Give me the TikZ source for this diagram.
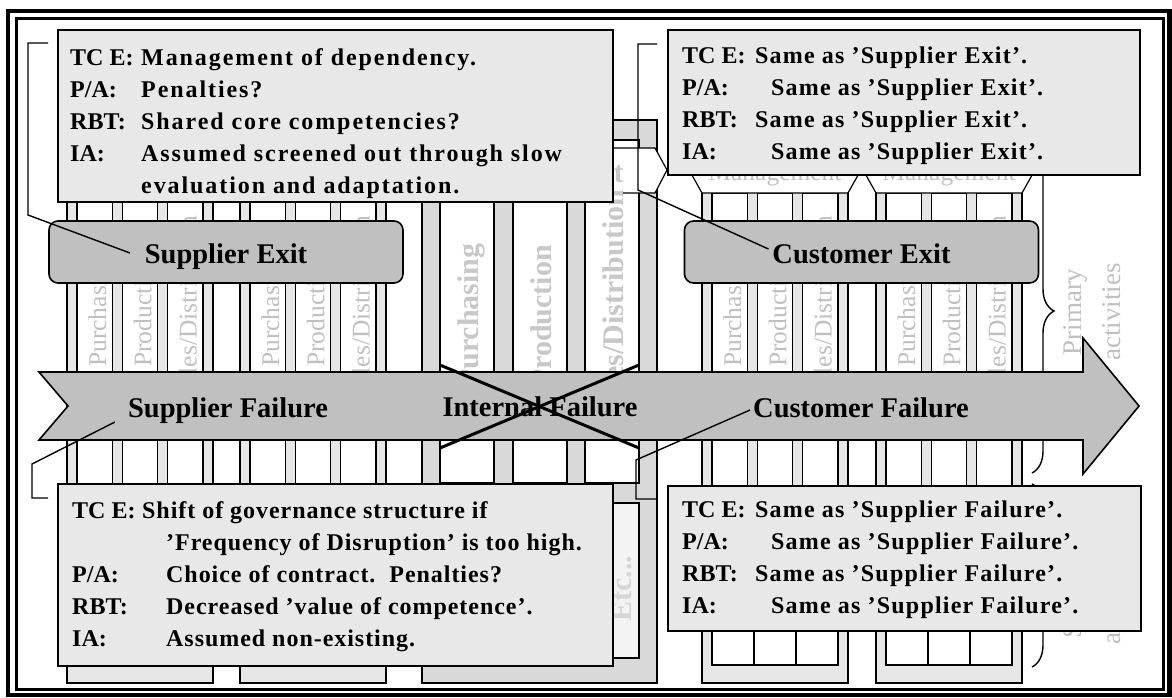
\documentclass[tikz,border=0pt]{standalone}
\usepackage{fontspec}
\usepackage{array}
\setmainfont{Liberation Serif}
\newfontfamily\tlserif[LetterSpace=8]{Liberation Serif}
\newfontfamily\blserif[LetterSpace=4]{Liberation Serif}
\newfontfamily\rserif[LetterSpace=5]{Liberation Serif}
\usepackage{tikz}
\usetikzlibrary{calc,decorations.pathreplacing}

\definecolor{boxfill}{RGB}{232,232,232}
\definecolor{exitfill}{RGB}{192,192,192}
\definecolor{barfill}{RGB}{230,230,230}
\definecolor{midfill}{RGB}{217,217,217}
\definecolor{etcfill}{RGB}{243,243,243}
\definecolor{colgray}{RGB}{192,192,192}
\definecolor{midgray}{RGB}{200,200,200}

\begin{document}
\begin{tikzpicture}[x=1pt, y=-1pt,
  outline/.style={draw, line width=1.2pt},
  textbox/.style={draw, line width=1.8pt, fill=boxfill, inner sep=0pt, anchor=north west},
  boxtext/.style={anchor=base west, inner sep=0pt, font=\bfseries\fontsize{24}{32}\selectfont},
  exitbox/.style={draw, line width=1.6pt, fill=exitfill, rounded corners=9pt, minimum width=354pt,
    minimum height=62pt, inner sep=0pt, text height=26pt, text depth=4pt, font=\bfseries\fontsize{28.5}{34}\selectfont},
  flowtext/.style={anchor=base, inner sep=0pt, font=\bfseries\fontsize{28.5}{34}\selectfont},
  coltext/.style={rotate=90, anchor=base west, inner sep=0pt, text=colgray, font=\fontsize{25.5}{30}\selectfont},
  midcol/.style={coltext, text=midgray, font=\bfseries\fontsize{30}{36}\selectfont},
  mgmt/.style={anchor=base, inner sep=0pt, text=colgray, font=\fontsize{25.5}{30}\selectfont},
  actbrace/.style={line width=1.4pt, decorate, decoration={brace, amplitude=22pt}},
  acttext/.style={rotate=90, align=center, inner sep=0pt, text=colgray, font=\fontsize{27}{39}\selectfont},
  leader/.style={line width=1.4pt}]
  \useasboundingbox (0,0) rectangle (1172,697);

  % Small firms of the chain (two suppliers, two customers)
  \foreach \cx/\n in {67/a,240/b,702/c,876/d} {
    \draw[outline, fill=barfill] (\cx,150) rectangle ++(146,533);
    \foreach \k in {0,1,2} {
      \draw[outline, fill=white] ({\cx+10+45.33*\k},193) rectangle ++(35.33,407);
      \draw[outline, fill=white] ({\cx+10+42*\k},608) rectangle ++(42,57);
    }
    \node[coltext] (pur\n) at ({\cx+39},367) {Purchasing};
    \node[coltext] (pro\n) at ({\cx+84.3},367) {Production};
    \node[coltext] (sal\n) at ({\cx+129.7},400) {Sales/Distribution};
  }
  % headers of the customer firms
  \foreach \cx/\n in {702/c,876/d} {
    \draw[outline, fill=white] (\cx,193) -- ++(146,0) -- ++(14,-25) -- ++(-14,-25)
      -- ++(-146,0) -- ++(-14,25) -- cycle;
    \node[mgmt] (mgmt\n) at ({\cx+73},180) {Management};
  }

  % Focal firm, drawn larger
  \draw[outline, fill=midfill] (422,120) rectangle (657,683);
  \foreach \x in {440,513,585}
    \draw[outline, fill=white] (\x,140) rectangle ++(54,343);
  \draw[outline, fill=etcfill] (440,503) rectangle (613,658);
  \draw[outline, fill=etcfill] (613,503) rectangle (639,658);
  \node[midcol, text=midgray!75] (etc) at (631,622) {Etc...};
  \draw[outline, fill=white] (422,193) -- (655,193) -- (667,170) -- (655,148)
    -- (422,148) -- (412,170) -- cycle;
  \node[mgmt, text=midgray, font=\bfseries\fontsize{30}{36}\selectfont] (mgmtMid) at (539.5,182) {Management};
  \node[midcol] (purMid) at (478,388) {Purchasing};
  \node[midcol] (proMid) at (551,388) {Production};
  \node[midcol] (salMid) at (623,420) {Sales/Distribution};

  % Primary / support braces on the right
  \draw[actbrace] (1032,149) -- (1032,473);
  \draw[actbrace] (1032,484) -- (1032,667);
  \node[acttext] (primAct) at (1092,312) {Primary\\activities};
  \node[acttext] (suppAct) at (1092,596) {Support\\activities};

  % Exit boxes
  \node[exitbox] (supExit) at (226,252) {Supplier Exit};
  \node[exitbox] (cusExit) at (861.5,252) {Customer Exit};

  % Flow arrow with the three failures
  \draw[line width=1.6pt, fill=exitfill] (39,372) -- (1083,372) -- (1083,338) -- (1139,406)
    -- (1083,474) -- (1083,440) -- (39,440) -- (68,406) -- cycle;
  \node[flowtext] (supFail) at (228,417) {Supplier Failure};
  \node[flowtext] (intFail) at (540,416) {Internal Failure};
  \node[flowtext] (cusFail) at (861,417) {Customer Failure};
  \draw[line width=3pt] (440,365) -- (639,448);
  \draw[line width=3pt] (639,365) -- (440,448);

  % Comment boxes
  \node[textbox, minimum width=555pt, minimum height=172pt] (supExitBox) at (57,29) {};
  \node[boxtext] (supExitTxt) at ($(supExitBox.north west)+(13,36)$) {%
    \begin{tabular}[t]{@{}p{71pt}@{}>{\tlserif}l@{}}
    TC E: & Management of dependency.\\
    P/A:  & Penalties?\\
    RBT:  & Shared core competencies?\\
    IA:   & Assumed screened out through slow\\
          & evaluation and adaptation.
  \end{tabular}};

  \node[textbox, minimum width=472pt, minimum height=145pt] (cusExitBox) at (667,29) {};
  \node[boxtext] (cusExitTxt) at ($(cusExitBox.north west)+(15,34)$) {%
    \begin{tabular}[t]{@{}p{73pt}@{}>{\rserif}l@{}}
    TC E: & Same as ’Supplier Exit’.\\
    P/A:  & \hspace*{16pt}Same as ’Supplier Exit’.\\
    RBT:  & Same as ’Supplier Exit’.\\
    IA:   & \hspace*{16pt}Same as ’Supplier Exit’.
  \end{tabular}};

  \node[textbox, minimum width=555pt, minimum height=182pt] (supFailBox) at (57,483) {};
  \node[boxtext] (supFailTxt) at ($(supFailBox.north west)+(15,35)$) {%
    \begin{tabular}[t]{@{}p{70pt}@{}>{\blserif}l@{}}
    TC E: & Shift of governance structure if\\
          & \hspace*{24pt}’Frequency of Disruption’ is too high.\\
    P/A:  & \hspace*{24pt}Choice of contract.\ \ Penalties?\\
    RBT:  & \hspace*{24pt}Decreased ’value of competence’.\\
    IA:   & \hspace*{24pt}Assumed non-existing.
  \end{tabular}};

  \node[textbox, minimum width=473pt, minimum height=145pt] (cusFailBox) at (667,485) {};
  \node[boxtext] (cusFailTxt) at ($(cusFailBox.north west)+(15,32)$) {%
    \begin{tabular}[t]{@{}p{73pt}@{}>{\rserif}l@{}}
    TC E: & Same as ’Supplier Failure’.\\
    P/A:  & \hspace*{16pt}Same as ’Supplier Failure’.\\
    RBT:  & Same as ’Supplier Failure’.\\
    IA:   & \hspace*{16pt}Same as ’Supplier Failure’.
  \end{tabular}};

  % Leaders from the boxes to their labels
  \coordinate (supExitTop) at ($(supExitBox.north west)+(-9,14)$);
  \draw[leader] (supExitTop) -- ++(-20,0) -- ++(0,172) -- ($(supExit.center)+(-96,1)$);
  \coordinate (cusExitTop) at ($(cusExitBox.north west)+(-10,15)$);
  \draw[leader] (cusExitTop) -- ++(-19,0) -- ++(0,146) -- ($(cusExit.center)+(-93,-3)$);
  \coordinate (supFailTop) at ($(supFailBox.north west)+(-9,15)$);
  \draw[leader] (supFailTop) -- ++(-16,0) -- ++(0,-34) -- ($(supFail.base west)+(-13,5)$);
  \coordinate (cusFailTop) at ($(cusFailBox.north west)+(-10,14)$);
  \draw[leader] (cusFailTop) -- ++(-21,0) -- ++(0,-39) -- ($(cusFail.base west)+(-3,-7)$);

  % Double frame
  \draw[line width=4.5pt] (8,11) rectangle (1169.5,695);
  \draw[line width=3pt] (16.5,18.5) rectangle (1163.5,689.5);
\end{tikzpicture}
\end{document}
